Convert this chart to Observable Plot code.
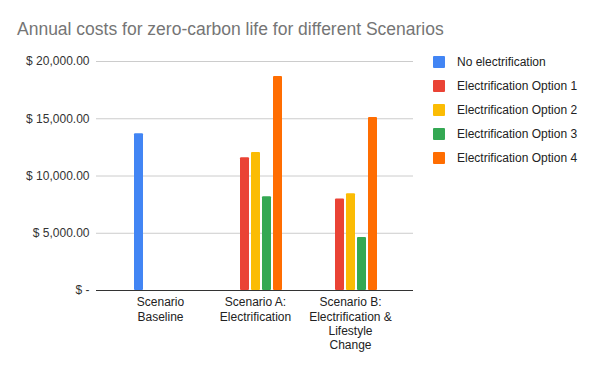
<!DOCTYPE html>
<html>
<head>
<meta charset="utf-8">
<script src="https://cdn.jsdelivr.net/npm/d3@7"></script>
<script src="https://cdn.jsdelivr.net/npm/@observablehq/plot@0.6"></script>
<style>
  html, body { margin: 0; padding: 0; background: #fff; }
  #wrap { position: relative; width: 600px; height: 371px; font-family: "Liberation Sans", Arial, sans-serif; }
  #title { position: absolute; left: 17px; top: 19px; font-size: 17.5px; color: #757575; white-space: nowrap; }
  #legend { position: absolute; left: 433px; top: 50px; font-size: 12px; color: #222; }
  .item { display: flex; align-items: center; height: 24px; }
  .sw { width: 12px; height: 12px; border-radius: 1px; margin-right: 12px; }
  .layer { position: absolute; left: 0; top: 0; }
</style>
</head>
<body>
<div id="wrap">
  <div id="grid" class="layer"></div>
  <div id="bars" class="layer"></div>
  <div id="title">Annual costs for zero-carbon life for different Scenarios</div>
  <div id="legend"></div>
</div>
<script>
const scenarios = ["Scenario Baseline", "Scenario A: Electrification", "Scenario B: Electrification & Lifestyle Change"];
const scenarioLabels = ["Scenario\nBaseline", "Scenario A:\nElectrification", "Scenario B:\nElectrification &\nLifestyle\nChange"];
const series = ["No electrification", "Electrification Option 1", "Electrification Option 2", "Electrification Option 3", "Electrification Option 4"];
const colors = ["#4285F4", "#EA4335", "#FBBC04", "#34A853", "#FF6D01"];
const noElectrification = [13700, null, null];
const option1 = [null, 11600, 8000];
const option2 = [null, 12050, 8450];
const option3 = [null, 8180, 4630];
const option4 = [null, 18700, 15100];
const yTicks = [0, 5000, 10000, 15000, 20000];

const seriesValues = [noElectrification, option1, option2, option3, option4];
const rows = [];
series.forEach((s, i) => {
  scenarios.forEach((sc, j) => {
    const v = seriesValues[i][j];
    if (v != null) rows.push({scenario: sc, series: s, value: v});
  });
});

const labelOf = new Map(scenarios.map((s, i) => [s, scenarioLabels[i]]));
const fmt = d3.format(",.2f");

const common = {
  width: 600,
  height: 371,
  marginTop: 61,
  marginBottom: 81,
  marginLeft: 96,
  marginRight: 187,
  style: {fontFamily: "'Liberation Sans', Arial, sans-serif", fontSize: "12px", background: "transparent"},
  y: {domain: [0, 20000], label: null}
};

const gridChart = Plot.plot({
  ...common,
  marks: [
    Plot.ruleY(yTicks.filter(d => d > 0), {stroke: "#cccccc", strokeWidth: 1}),
    Plot.axisY({ticks: yTicks, tickSize: 0, tickPadding: 7, fill: "#333", fontSize: 12,
      tickFormat: d => d === 0 ? "$ -" : "$ " + fmt(d), label: null}),
    Plot.ruleY([0], {stroke: "#333", strokeWidth: 1})
  ]
});
document.getElementById("grid").appendChild(gridChart);

const barChart = Plot.plot({
  ...common,
  fx: {domain: scenarios, paddingInner: 0.35, paddingOuter: 0.343, label: null},
  x: {domain: series, padding: 0.2, axis: null},
  y: {domain: [0, 20000], axis: null},
  color: {domain: series, range: colors},
  marks: [
    Plot.barY(rows, {fx: "scenario", x: "series", y: "value", fill: "series", rx: 1}),
    Plot.axisFx({anchor: "bottom", tickSize: 0, tickPadding: 6, fill: "#222", fontSize: 12, lineHeight: 1.17,
      tickFormat: d => labelOf.get(d), label: null})
  ]
});
document.getElementById("bars").appendChild(barChart);

const legend = document.getElementById("legend");
series.forEach((s, i) => {
  const item = document.createElement("div");
  item.className = "item";
  const sw = document.createElement("div");
  sw.className = "sw";
  sw.style.background = colors[i];
  const t = document.createElement("span");
  t.textContent = s;
  item.appendChild(sw);
  item.appendChild(t);
  legend.appendChild(item);
});
</script>
</body>
</html>
